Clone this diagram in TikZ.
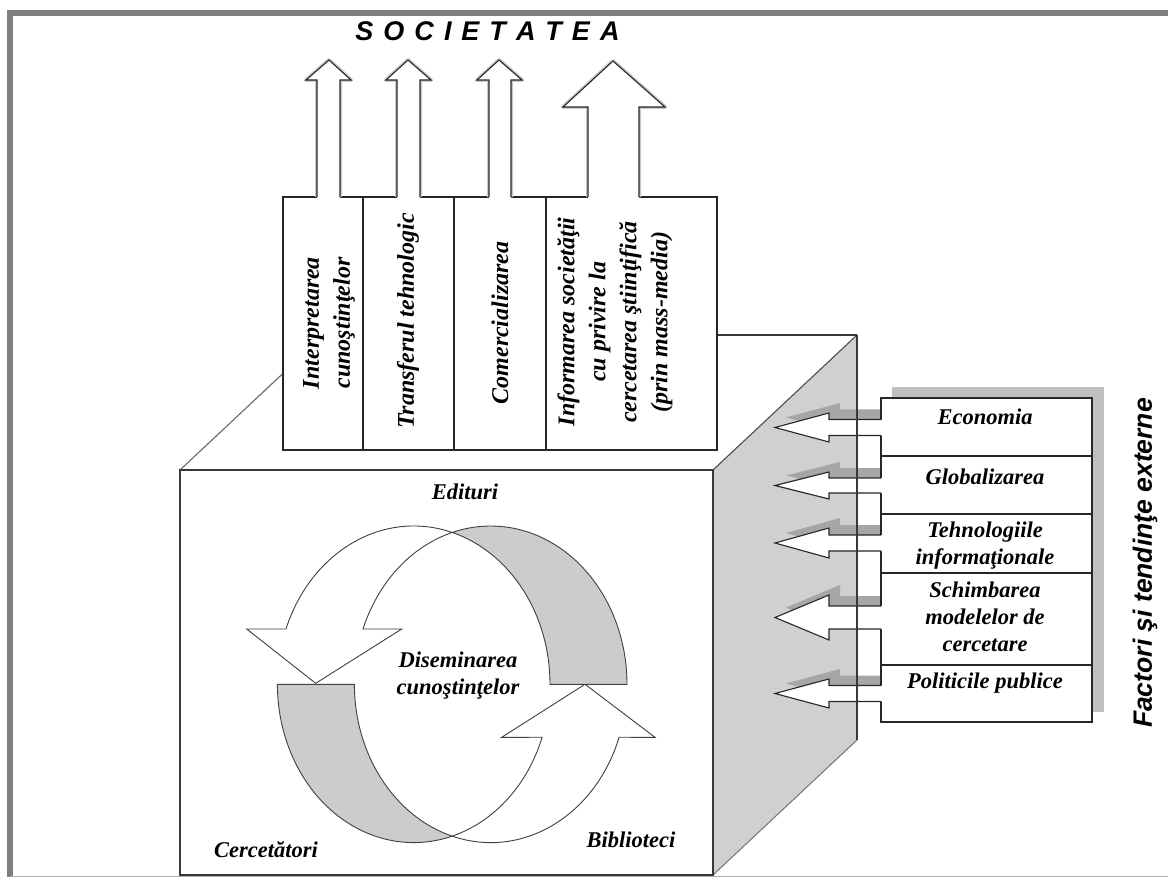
\documentclass[tikz,border=0pt]{standalone}
\usepackage{fontspec}
\setmainfont{Liberation Serif}
\newfontfamily\arialf{Liberation Sans}
\definecolor{facegray}{HTML}{D0D0D0}
\definecolor{bandgray}{HTML}{CCCCCC}
\definecolor{shadowgray}{HTML}{A6A6A6}
\definecolor{boxshadow}{HTML}{C0C0C0}
\definecolor{framegray}{HTML}{808080}
\newcommand\UpArr[7]{% shaft left, shaft right, head left, head right, tip x, head base y, tip y
  \draw[black!22, line width=4pt, line join=round] (#1,197) -- (#1,#6) -- (#3,#6) -- (#5,#7) -- (#4,#6) -- (#2,#6) -- (#2,197);
  \fill[white] (#1,199) -- (#1,#6) -- (#3,#6) -- (#5,#7) -- (#4,#6) -- (#2,#6) -- (#2,199) -- cycle;
  \draw[arrline] (#1,197) -- (#1,#6) -- (#3,#6) -- (#5,#7) -- (#4,#6) -- (#2,#6) -- (#2,197);
}
\newcommand\LArrShadow[3]{% centre y, head half, shaft half
  \fill[shadowgray] ([shift={(11,-10)}]881,{#1-#3}) -- ([shift={(11,-10)}]829,{#1-#3}) -- ([shift={(11,-10)}]829,{#1-#2}) -- ([shift={(11,-10)}]775,#1) -- ([shift={(11,-10)}]829,{#1+#2}) -- ([shift={(11,-10)}]829,{#1+#3}) -- ([shift={(11,-10)}]881,{#1+#3}) -- cycle;
}
\newcommand\LArr[3]{%
  \fill[white] (882.5,{#1-#3}) -- (829,{#1-#3}) -- (829,{#1-#2}) -- (775,#1) -- (829,{#1+#2}) -- (829,{#1+#3}) -- (882.5,{#1+#3}) -- cycle;
  \draw[arrline] (881,{#1-#3}) -- (829,{#1-#3}) -- (829,{#1-#2}) -- (775,#1) -- (829,{#1+#2}) -- (829,{#1+#3}) -- (881,{#1+#3});
}
\begin{document}
\begin{tikzpicture}[x=1pt,y=-1pt,
  cubeline/.style={draw=black!78, line width=1.3pt},
  arrline/.style={draw=black!85, line width=1.1pt, line join=miter},
  boxline/.style={draw=black!85, line width=1.2pt, fill=white},
  ringline/.style={draw=black!75, line width=0.9pt},
  vtxt/.style={font=\bfseries\itshape\fontsize{24}{31}\selectfont, align=center, inner sep=0pt, rotate=90},
  ftxt/.style={font=\bfseries\itshape\fontsize{22.5}{27}\selectfont, align=center, inner sep=0pt},
  ell/.style={x radius=136.3, y radius=158.3}
]
\useasboundingbox (0,0) rectangle (1168,877);

% frame
\draw[framegray, line width=6pt] (10,880) -- (10,13) -- (1172,13);
\draw[black!30, line width=1.5pt] (10,876.3) -- (1168,876.3);

% cube: top face
\fill[white] (180,470) -- (324,335) -- (857,335) -- (713,470) -- cycle;
\draw[black!60, line width=1.1pt] (180,470) -- (324,335);
\draw[cubeline] (324,335) -- (857,335);
% right face
\fill[facegray] (713,470) -- (857,335) -- (857,740) -- (713,875) -- cycle;
\draw[black!70, line width=1.1pt] (713,470) -- (857,335);
\draw[black!55, line width=1pt] (857,740) -- (713,875);
% front face
\draw[cubeline, fill=white] (180,470) rectangle (713,875);

% top boxes
\draw[boxline] (283,197) rectangle (363,450);
\draw[boxline] (363,197) rectangle (454,450);
\draw[boxline] (454,197) rectangle (546,450);
\draw[boxline] (546,197) rectangle (717,450);

% up arrows
\UpArr{317}{340}{306}{351}{329}{80}{60}
\UpArr{397}{420}{386}{431}{408}{80}{60}
\UpArr{489}{511}{477}{522}{499}{80}{60}
\UpArr{588}{639}{563}{665}{613}{107}{61}

% texts in top boxes
\node[vtxt] (t1) at (329,323) {Interpretarea\\cunoştinţelor};
\node[vtxt] (t2) at (408,321) {Transferul tehnologic};
\node[vtxt] (t3) at (500,323) {Comercializarea};
\node[vtxt] (t4) at (615,322) {Informarea societăţii\\cu privire la\\cercetarea ştiinţifică\\(prin mass-media)};

% SOCIETATEA
\node[font=\arialf\bfseries\itshape\fontsize{27}{30}\selectfont, inner sep=0pt] (soc) at (487.5,31)
  {S\kern10pt O\kern10pt C\kern10pt I\kern10pt E\kern10pt T\kern10pt A\kern10pt T\kern10pt E\kern10pt A};

% arrow shadows on the right face
\LArrShadow{427.5}{14.5}{8}
\LArrShadow{485.5}{13.5}{7.5}
\LArrShadow{543}{15}{8}
\LArrShadow{617.5}{22.5}{11.5}
\LArrShadow{693.5}{14.5}{8}

% factor boxes
\fill[boxshadow] (892,387) rectangle (1104,712);
\draw[boxline] (881,398) rectangle (1092,456);
\draw[boxline] (881,456) rectangle (1092,514);
\draw[boxline] (881,514) rectangle (1092,573);
\draw[boxline] (881,573) rectangle (1092,665);
\draw[boxline] (881,665) rectangle (1092,722);

% left arrows
\LArr{427.5}{14.5}{8}
\LArr{485.5}{13.5}{7.5}
\LArr{543}{15}{8}
\LArr{617.5}{22.5}{11.5}
\LArr{693.5}{14.5}{8}

% cube right edge (drawn over the arrows)
\draw[cubeline] (857,335) -- (857,740);

% factor texts
\node[ftxt] (f1) at (985,417) {Economia};
\node[ftxt] (f2) at (985,477) {Globalizarea};
\node[ftxt] (f3) at (985,546) {Tehnologiile\\informaţionale};
\node[ftxt] (f4) at (985,617) {Schimbarea\\modelelor de\\cercetare};
\node[ftxt] (f5) at (985,683) {Politicile publice};

\node[font=\arialf\bfseries\itshape\fontsize{26.5}{30}\selectfont, rotate=90, inner sep=0pt] (fac) at (1145,563) {Factori şi tendinţe externe};

% circular arrows
\coordinate (Ac) at (413.7,684.3);
\coordinate (Bc) at (490.7,684.3);
% upper white band with head
\filldraw[ringline, fill=white] ([shift={(Ac)}]-73.6:136.3 and 158.3) arc[ell, start angle=-73.6, end angle=-159.55]
  -- (246.7,629) -- (315.7,683.3) -- (401.7,629) -- ([shift={(Bc)}]200.45:136.3 and 158.3)
  arc[ell, start angle=200.45, end angle=253.6] -- cycle;
% upper gray crescent
\filldraw[ringline, fill=bandgray] ([shift={(Bc)}]-106.4:136.3 and 158.3) arc[ell, start angle=-106.4, end angle=0]
  -- ([shift={(Ac)}]0:136.3 and 158.3) arc[ell, start angle=0, end angle=-73.6] -- cycle;
% lower gray crescent
\filldraw[ringline, fill=bandgray] ([shift={(Ac)}]180:136.3 and 158.3) arc[ell, start angle=180, end angle=73.6]
  -- ([shift={(Bc)}]106.4:136.3 and 158.3) arc[ell, start angle=106.4, end angle=180] -- cycle;
% lower white band with head
\filldraw[ringline, fill=white] ([shift={(Ac)}]73.6:136.3 and 158.3) arc[ell, start angle=73.6, end angle=19.56]
  -- (501.7,737.3) -- (585,684.3) -- (655,737.3) -- ([shift={(Bc)}]19.56:136.3 and 158.3)
  arc[ell, start angle=19.56, end angle=106.4] -- cycle;

% texts on the front face
\node[ftxt] (ed) at (465,492) {Edituri};
\node[ftxt] (dis) at (458,676) {Diseminarea\\cunoştinţelor};
\node[ftxt] (cer) at (266,850) {Cercetători};
\node[ftxt] (bib) at (631,840) {Biblioteci};
\end{tikzpicture}
\end{document}
